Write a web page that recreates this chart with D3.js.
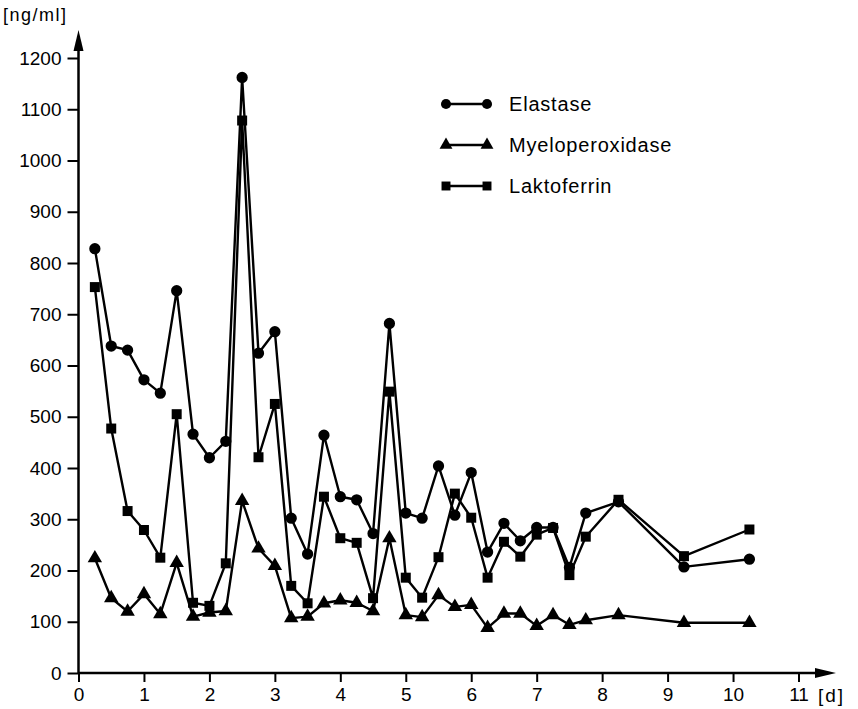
<!DOCTYPE html>
<html>
<head>
<meta charset="utf-8">
<script src="https://cdn.jsdelivr.net/npm/d3@7"></script>
<style>
  body { margin: 0; background: #fff; }
  text { font-family: "Liberation Sans", Arial, sans-serif; fill: #000; }
</style>
</head>
<body>
<script>
// days of measurement
const days = [0.25, 0.5, 0.75, 1, 1.25, 1.5, 1.75, 2, 2.25, 2.5, 2.75, 3, 3.25, 3.5, 3.75,
  4, 4.25, 4.5, 4.75, 5, 5.25, 5.5, 5.75, 6, 6.25, 6.5, 6.75, 7, 7.25, 7.5, 7.75, 8.25, 9.25, 10.25];

const elastase = [828, 638, 630, 572, 546, 746, 466, 420, 452, 1162, 624, 666, 302, 232, 464,
  344, 338, 272, 682, 312, 302, 404, 308, 391, 236, 292, 258, 284, 284, 206, 312, 334, 207, 222];

const myeloperoxidase = [224, 146, 120, 154, 115, 215, 110, 118, 121, 336, 243, 209, 107, 110, 136,
  142, 137, 121, 263, 113, 109, 152, 129, 133, 88, 116, 116, 92, 113, 94, 103, 113, 98, 98];

const laktoferrin = [753, 477, 316, 279, 225, 505, 137, 131, 214, 1078, 421, 525, 170, 136, 344,
  263, 254, 146, 549, 186, 147, 226, 350, 303, 186, 256, 227, 270, 283, 191, 266, 338, 228, 280];

const xTicks = d3.range(0, 12);
const yTicks = d3.range(0, 1300, 100);

const series = [
  {name: 'Elastase', values: elastase, shape: d3.symbolCircle, size: 100},
  {name: 'Myeloperoxidase', values: myeloperoxidase, shape: d3.symbolTriangle, size: 90},
  {name: 'Laktoferrin', values: laktoferrin, shape: d3.symbolSquare, size: 100}
];

const W = 858, H = 709;
const margin = {top: 58, left: 78.5, bottom: 36, right: 60};

const svg = d3.select('body').append('svg')
  .attr('width', W)
  .attr('height', H);

const xscale = d3.scaleLinear().domain([0, 11]).range([margin.left, 798.5]);
const yscale = d3.scaleLinear().domain([0, 1200]).range([H - margin.bottom, margin.top]);
const x0 = xscale(0), y0 = yscale(0);

// axes
const xaxis = d3.axisBottom(xscale).tickValues(xTicks).tickSize(9).tickPadding(6).tickFormat(d3.format('d'));
const yaxis = d3.axisLeft(yscale).tickValues(yTicks).tickSize(11).tickPadding(6).tickFormat(d3.format('d'));

const g_xaxis = svg.append('g').attr('transform', `translate(0,${y0})`).call(xaxis);
const g_yaxis = svg.append('g').attr('transform', `translate(${x0},0)`).call(yaxis);

[g_xaxis, g_yaxis].forEach(g => {
  g.select('.domain').remove();
  g.selectAll('line').attr('stroke', '#000').attr('stroke-width', 2);
  g.selectAll('text').style('font-family', '"Liberation Sans", Arial, sans-serif')
    .style('font-size', '19px').attr('fill', '#000');
});

// axis lines with arrows
svg.append('line').attr('x1', x0).attr('y1', y0).attr('x2', 826).attr('y2', y0)
  .attr('stroke', '#000').attr('stroke-width', 2.5);
svg.append('path').attr('d', `M836,${y0} L815,${y0 - 5} L815,${y0 + 5} Z`).attr('fill', '#000');

svg.append('line').attr('x1', x0).attr('y1', y0 + 1).attr('x2', x0).attr('y2', 40)
  .attr('stroke', '#000').attr('stroke-width', 2.5);
svg.append('path').attr('d', `M${x0},30 L${x0 - 5},51 L${x0 + 5},51 Z`).attr('fill', '#000');

// units
svg.append('text').attr('x', 3).attr('y', 21).style('font-size', '18px')
  .style('letter-spacing', '1.5px').text('[ng/ml]');
svg.append('text').attr('x', 818).attr('y', y0 + 29).style('font-size', '19px')
  .style('letter-spacing', '2px').text('[d]');

// series
const line = d3.line().x(d => xscale(d[0])).y(d => yscale(d[1]));

series.forEach(s => {
  const pts = days.map((d, i) => [d, s.values[i]]);
  svg.append('path').datum(pts)
    .attr('d', line)
    .attr('fill', 'none')
    .attr('stroke', '#000')
    .attr('stroke-width', 2.4)
    .attr('stroke-linejoin', 'round');
  svg.append('g').selectAll('path').data(pts).join('path')
    .attr('transform', d => `translate(${xscale(d[0])},${yscale(d[1])})`)
    .attr('d', d3.symbol().type(s.shape).size(s.size))
    .attr('fill', '#000');
});

// legend
const legend = svg.append('g').attr('transform', 'translate(446,104)');
series.forEach((s, i) => {
  const gy = i * 41;
  legend.append('line').attr('x1', 0).attr('x2', 41).attr('y1', gy).attr('y2', gy)
    .attr('stroke', '#000').attr('stroke-width', 2.4);
  [0, 41].forEach(px => {
    legend.append('path').attr('transform', `translate(${px},${gy})`)
      .attr('d', d3.symbol().type(s.shape).size(s.size * 0.8)).attr('fill', '#000');
  });
  legend.append('text').attr('x', 63).attr('y', gy + 7).style('font-size', '20px')
    .style('letter-spacing', '0.8px').text(s.name);
});
</script>
</body>
</html>
